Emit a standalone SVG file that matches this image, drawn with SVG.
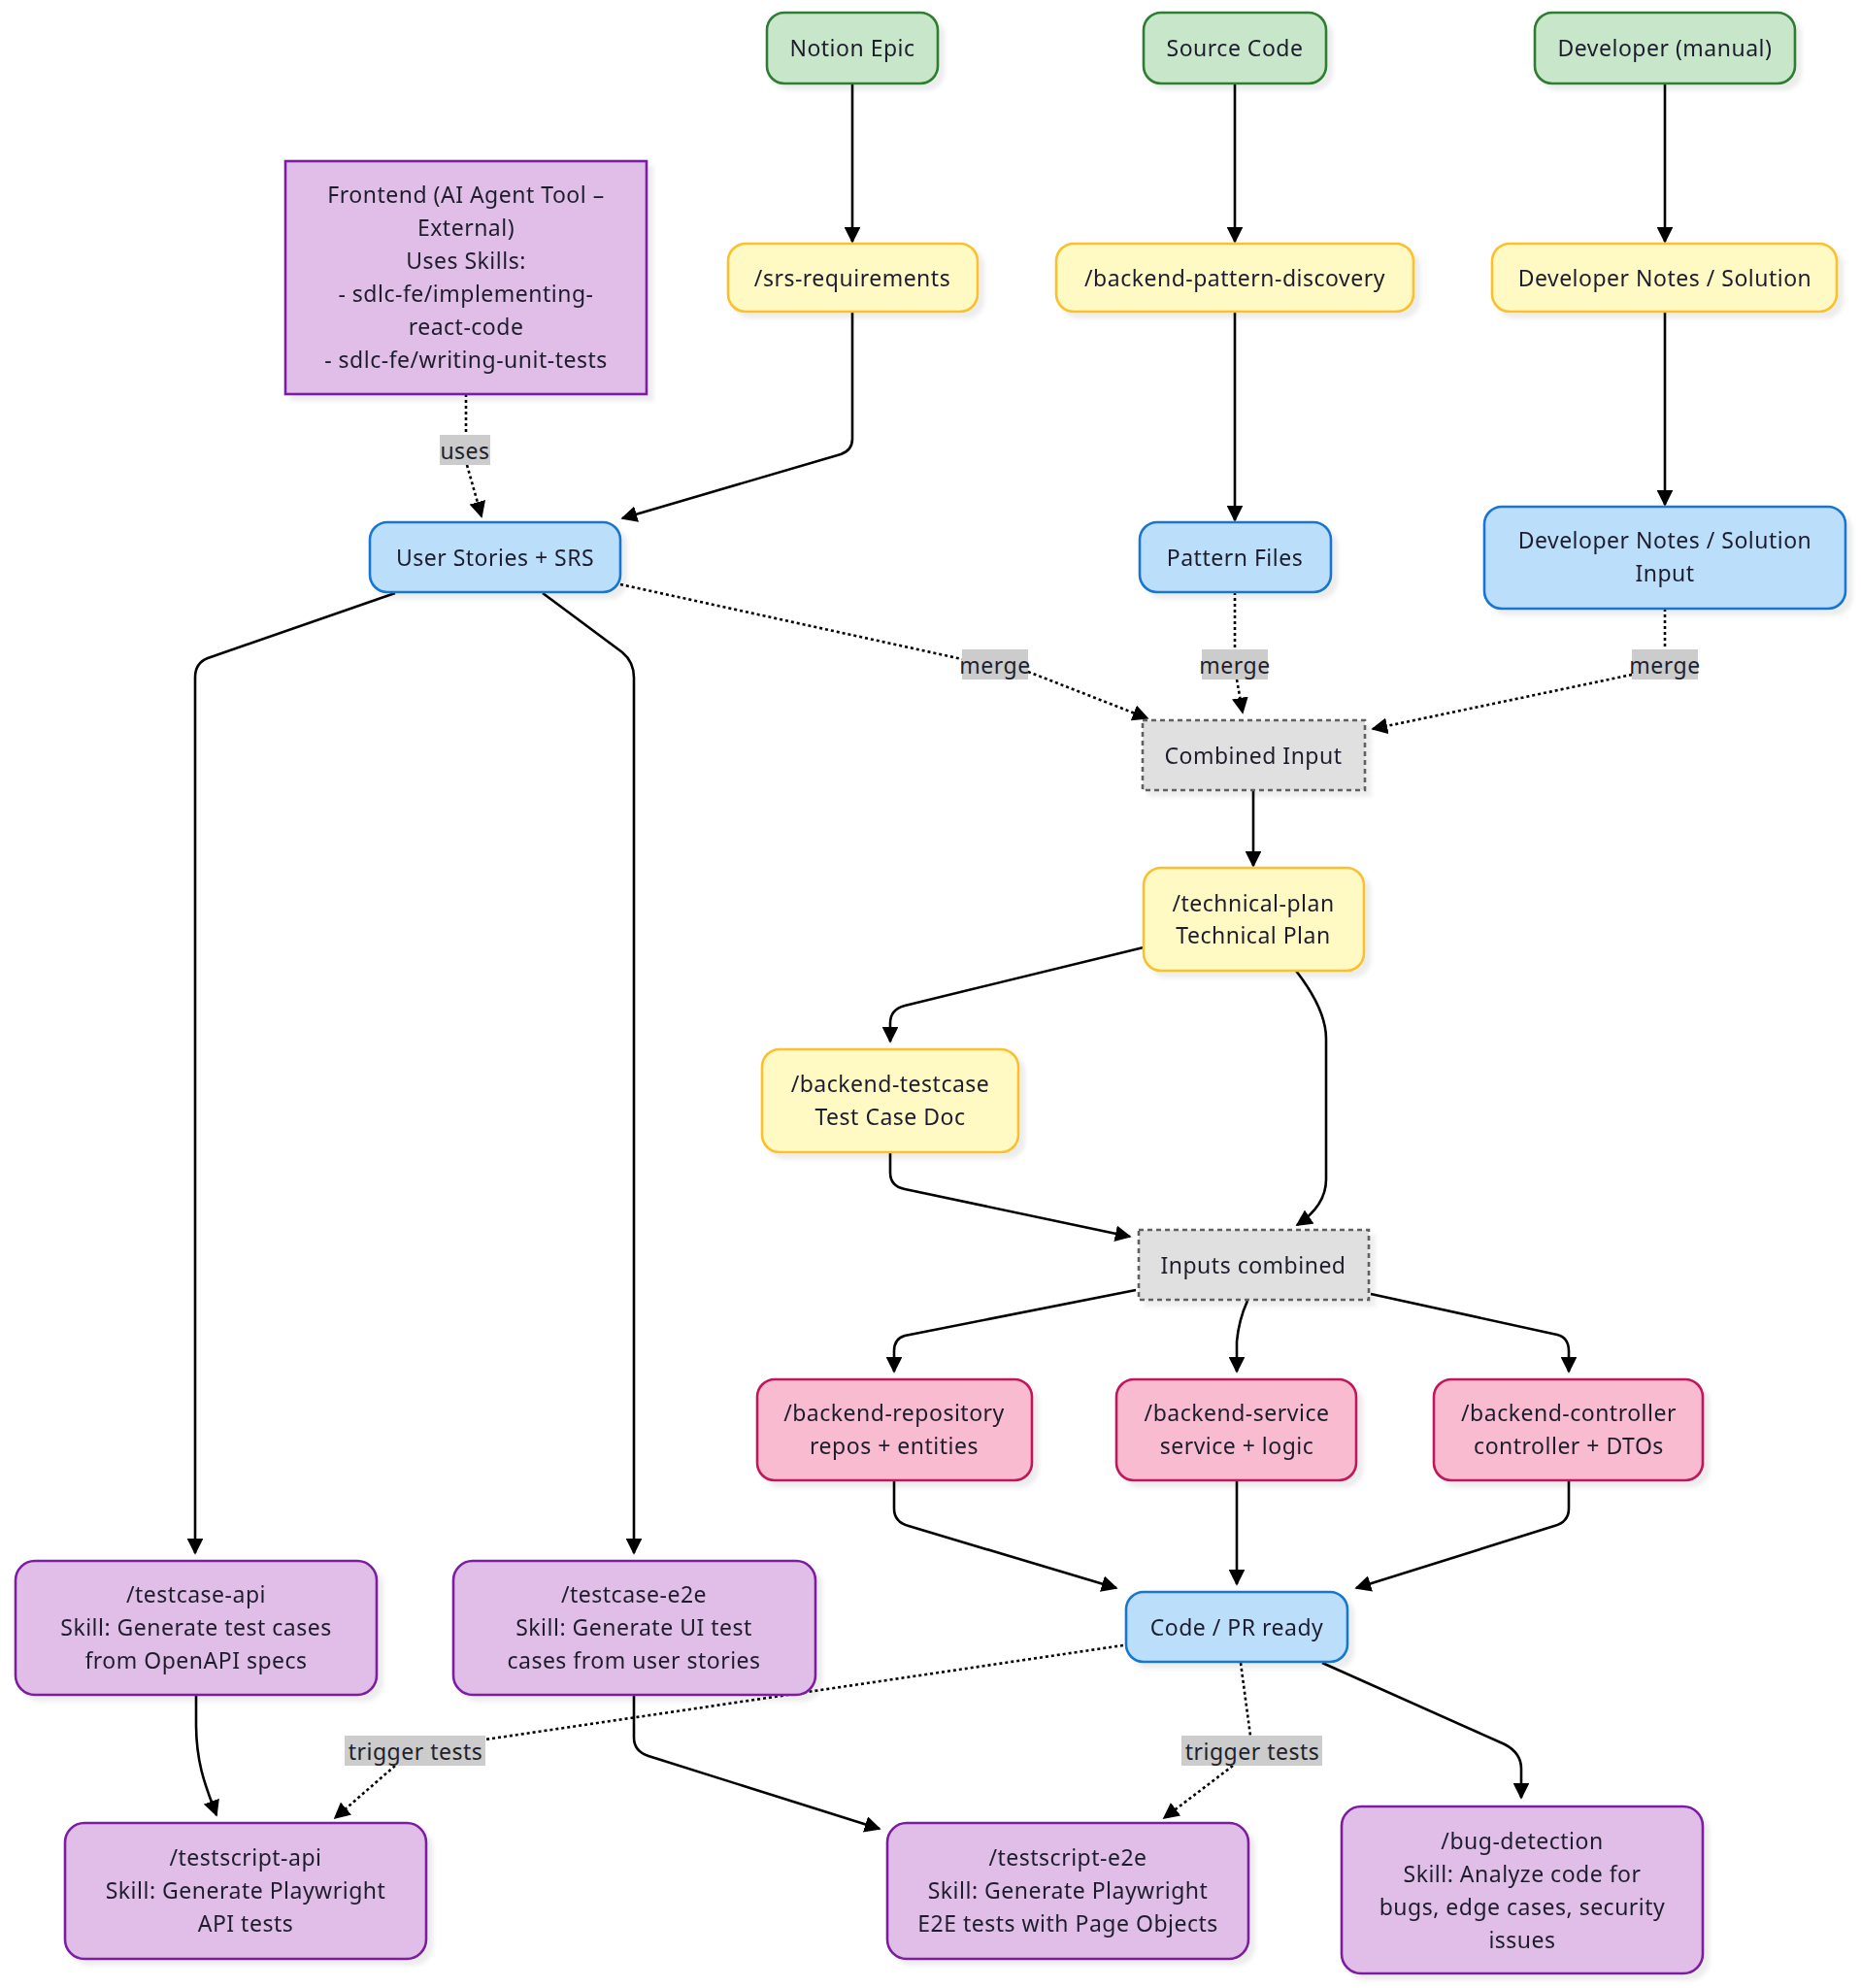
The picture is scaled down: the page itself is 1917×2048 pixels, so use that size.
<svg xmlns="http://www.w3.org/2000/svg" width="1917" height="2048" viewBox="0 0 1917 2048">
<style>
text{font-family:"Noto Sans","Liberation Sans",sans-serif;font-size:23px;letter-spacing:0.5px;fill:#1f1f2e;text-anchor:middle;dominant-baseline:central}
.n rect{stroke-width:2.6}
.g rect{fill:#c8e6c9;stroke:#2e7d32}
.y rect{fill:#fff9c4;stroke:#fbc02d}
.b rect{fill:#bbdefb;stroke:#1976d2}
.p rect{fill:#e1bee7;stroke:#7b1fa2}
.k rect{fill:#f8bbd0;stroke:#c2185b}
.c rect{fill:#e0e0e0;stroke:#616161;stroke-dasharray:5 4}
.e path{fill:none;stroke:#000;stroke-width:2.6}
.e path.d{stroke-dasharray:3 3}
.lbl rect{fill:#cccccc;stroke:none}
</style>
<defs>
<marker id="ah" viewBox="0 0 10 10" refX="9" refY="5" markerWidth="6.5" markerHeight="6.5" markerUnits="strokeWidth" orient="auto">
<path d="M0,0 L10,5 L0,10 z" fill="#000"/>
</marker>
<filter id="sh" x="-10%" y="-10%" width="130%" height="140%">
<feDropShadow dx="6" dy="6" stdDeviation="2" flood-color="#000" flood-opacity="0.07"/>
</filter>
</defs>
<rect width="1917" height="2048" fill="#fff"/>

<g id="connectors" class="e">
<path marker-end="url(#ah)" d="M878,86 L878,249"/>
<path marker-end="url(#ah)" d="M1272,86 L1272,249"/>
<path marker-end="url(#ah)" d="M1715,86 L1715,249"/>
<path marker-end="url(#ah)" d="M878,321 L878,452 Q878,464 866,468 L641,534"/>
<path marker-end="url(#ah)" d="M1272,321 L1272,536"/>
<path marker-end="url(#ah)" d="M1715,321 L1715,520"/>
<path class="d" marker-end="url(#ah)" d="M480,406 L480,448 M481,479 L496,532"/>
<path class="d" marker-end="url(#ah)" d="M639,602 L991,679 M1059,692 L1182,740"/>
<path class="d" marker-end="url(#ah)" d="M1272,610 L1272,669 M1274,700 L1280,734"/>
<path class="d" marker-end="url(#ah)" d="M1715,627 L1715,669 M1681,695 L1414,751"/>
<path marker-end="url(#ah)" d="M1291,814 L1291,892"/>
<path marker-end="url(#ah)" d="M1178,976 L932,1036 Q917,1040 917,1054 L917,1073"/>
<path marker-end="url(#ah)" d="M1335,1000 Q1366,1040 1366,1070 L1366,1215 Q1366,1242 1336,1262"/>
<path marker-end="url(#ah)" d="M917,1187 L917,1208 Q917,1222 932,1225 L1164,1274"/>
<path marker-end="url(#ah)" d="M1170,1329 L932,1376 Q921,1379 921,1392 L921,1413"/>
<path marker-end="url(#ah)" d="M1285,1340 Q1276,1360 1274,1382 L1274,1413"/>
<path marker-end="url(#ah)" d="M1412,1333 L1604,1375 Q1616,1378 1616,1392 L1616,1413"/>
<path marker-end="url(#ah)" d="M921,1525 L921,1554 Q921,1568 936,1572 L1150,1636"/>
<path marker-end="url(#ah)" d="M1274,1525 L1274,1632"/>
<path marker-end="url(#ah)" d="M1616,1525 L1616,1554 Q1616,1568 1601,1572 L1397,1636"/>
<path marker-end="url(#ah)" d="M407,611 L214,678 Q201,683 201,698 L201,1600"/>
<path marker-end="url(#ah)" d="M559,611 L641,672 Q653,682 653,698 L653,1600"/>
<path marker-end="url(#ah)" d="M202,1746 L202,1776 C202,1820 214,1845 223,1870"/>
<path marker-end="url(#ah)" d="M653,1746 L653,1790 Q653,1804 668,1809 L906,1884"/>
<path class="d" marker-end="url(#ah)" d="M1157,1695 L500,1792 M407,1819 L345,1873"/>
<path class="d" marker-end="url(#ah)" d="M1278,1713 L1288,1788 M1270,1819 L1199,1873"/>
<path marker-end="url(#ah)" d="M1362,1713 L1550,1797 Q1567,1806 1567,1822 L1567,1852"/>
<g class="lbl">
<rect x="453" y="448" width="52" height="31"/><text x="479" y="464">uses</text>
<rect x="991" y="669" width="68" height="31"/><text x="1025" y="685">merge</text>
<rect x="1238" y="669" width="68" height="31"/><text x="1272" y="685">merge</text>
<rect x="1681" y="669" width="68" height="31"/><text x="1715" y="685">merge</text>
<rect x="355" y="1788" width="145" height="31"/><text x="428" y="1804">trigger tests</text>
<rect x="1217" y="1788" width="145" height="31"/><text x="1290" y="1804">trigger tests</text>
</g>
</g>

<g id="notion-epic" class="n g" filter="url(#sh)"><rect x="790" y="13" width="176" height="73" rx="18"/><text x="878" y="49">Notion Epic</text></g>
<g id="source-code" class="n g" filter="url(#sh)"><rect x="1178" y="13" width="188" height="73" rx="18"/><text x="1272" y="49">Source Code</text></g>
<g id="developer-manual" class="n g" filter="url(#sh)"><rect x="1581" y="13" width="268" height="73" rx="18"/><text x="1715" y="49">Developer (manual)</text></g>

<g id="srs-requirements" class="n y" filter="url(#sh)"><rect x="750" y="251" width="257" height="70" rx="18"/><text x="878" y="286">/srs-requirements</text></g>
<g id="backend-pattern-discovery" class="n y" filter="url(#sh)"><rect x="1088" y="251" width="368" height="70" rx="18"/><text x="1272" y="286">/backend-pattern-discovery</text></g>
<g id="developer-notes" class="n y" filter="url(#sh)"><rect x="1537" y="251" width="355" height="70" rx="18"/><text x="1715" y="286">Developer Notes / Solution</text></g>

<g id="frontend" class="n p" filter="url(#sh)"><rect x="294" y="166" width="372" height="240"/>
<text x="480" y="200">Frontend (AI Agent Tool –</text>
<text x="480" y="234">External)</text>
<text x="480" y="268">Uses Skills:</text>
<text x="480" y="302">- sdlc-fe/implementing-</text>
<text x="480" y="336">react-code</text>
<text x="480" y="370">- sdlc-fe/writing-unit-tests</text></g>

<g id="user-stories" class="n b" filter="url(#sh)"><rect x="381" y="538" width="258" height="72" rx="18"/><text x="510" y="574">User Stories + SRS</text></g>
<g id="pattern-files" class="n b" filter="url(#sh)"><rect x="1174" y="538" width="197" height="72" rx="18"/><text x="1272" y="574">Pattern Files</text></g>
<g id="developer-notes-input" class="n b" filter="url(#sh)"><rect x="1529" y="522" width="372" height="105" rx="18"/><text x="1715" y="556">Developer Notes / Solution</text><text x="1715" y="590">Input</text></g>

<g id="combined-input" class="n c" filter="url(#sh)"><rect x="1177" y="742" width="229" height="72"/><text x="1291" y="778">Combined Input</text></g>

<g id="technical-plan" class="n y" filter="url(#sh)"><rect x="1178" y="894" width="227" height="106" rx="18"/><text x="1291" y="930">/technical-plan</text><text x="1291" y="963">Technical Plan</text></g>
<g id="backend-testcase" class="n y" filter="url(#sh)"><rect x="785" y="1081" width="264" height="106" rx="18"/><text x="917" y="1116">/backend-testcase</text><text x="917" y="1150">Test Case Doc</text></g>

<g id="inputs-combined" class="n c" filter="url(#sh)"><rect x="1173" y="1267" width="237" height="72"/><text x="1291" y="1303">Inputs combined</text></g>

<g id="backend-repository" class="n k" filter="url(#sh)"><rect x="780" y="1421" width="283" height="104" rx="18"/><text x="921" y="1455">/backend-repository</text><text x="921" y="1489">repos + entities</text></g>
<g id="backend-service" class="n k" filter="url(#sh)"><rect x="1150" y="1421" width="247" height="104" rx="18"/><text x="1274" y="1455">/backend-service</text><text x="1274" y="1489">service + logic</text></g>
<g id="backend-controller" class="n k" filter="url(#sh)"><rect x="1477" y="1421" width="277" height="104" rx="18"/><text x="1616" y="1455">/backend-controller</text><text x="1616" y="1489">controller + DTOs</text></g>

<g id="code-pr-ready" class="n b" filter="url(#sh)"><rect x="1160" y="1640" width="228" height="72" rx="18"/><text x="1274" y="1676">Code / PR ready</text></g>

<g id="testcase-api" class="n p" filter="url(#sh)"><rect x="16" y="1608" width="372" height="138" rx="20"/><text x="202" y="1642">/testcase-api</text><text x="202" y="1676">Skill: Generate test cases</text><text x="202" y="1710">from OpenAPI specs</text></g>
<g id="testcase-e2e" class="n p" filter="url(#sh)"><rect x="467" y="1608" width="373" height="138" rx="20"/><text x="653" y="1642">/testcase-e2e</text><text x="653" y="1676">Skill: Generate UI test</text><text x="653" y="1710">cases from user stories</text></g>
<g id="testscript-api" class="n p" filter="url(#sh)"><rect x="67" y="1878" width="372" height="140" rx="20"/><text x="253" y="1913">/testscript-api</text><text x="253" y="1947">Skill: Generate Playwright</text><text x="253" y="1981">API tests</text></g>
<g id="testscript-e2e" class="n p" filter="url(#sh)"><rect x="914" y="1878" width="372" height="140" rx="20"/><text x="1100" y="1913">/testscript-e2e</text><text x="1100" y="1947">Skill: Generate Playwright</text><text x="1100" y="1981">E2E tests with Page Objects</text></g>
<g id="bug-detection" class="n p" filter="url(#sh)"><rect x="1382" y="1861" width="372" height="172" rx="20"/><text x="1568" y="1896">/bug-detection</text><text x="1568" y="1930">Skill: Analyze code for</text><text x="1568" y="1964">bugs, edge cases, security</text><text x="1568" y="1998">issues</text></g>
</svg>
